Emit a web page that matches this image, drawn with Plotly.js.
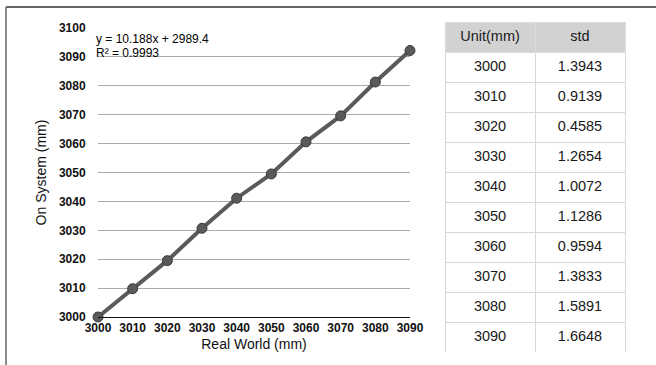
<!DOCTYPE html>
<html>
<head>
<meta charset="utf-8">
<script src="https://cdn.plot.ly/plotly-3.0.1.min.js"></script>
<style>html,body{margin:0;padding:0;background:#fff;}#chart{width:656px;height:365px;}</style>
</head>
<body>
<div id="chart"></div>
<script>
// Data
const realWorld = [3000, 3010, 3020, 3030, 3040, 3050, 3060, 3070, 3080, 3090];
const onSystem  = [3000, 3009.8, 3019.5, 3030.7, 3041.1, 3049.5, 3060.6, 3069.6, 3081.3, 3092.2];
const tableUnits = ["3000", "3010", "3020", "3030", "3040", "3050", "3060", "3070", "3080", "3090"];
const tableStd   = ["1.3943", "0.9139", "0.4585", "1.2654", "1.0072", "1.1286", "0.9594", "1.3833", "1.5891", "1.6648"];
const tableHeader = ["Unit(mm)", "std"];
const xTicks = [3000, 3010, 3020, 3030, 3040, 3050, 3060, 3070, 3080, 3090];
const yTicks = [3000, 3010, 3020, 3030, 3040, 3050, 3060, 3070, 3080, 3090, 3100];
const trendText = "y = 10.188x + 2989.4";
const r2Text = "R² = 0.9993";

const W = 656, H = 365;
const px = v => v / W;
const py = v => 1 - v / H;
const font = "Liberation Sans, Arial, Helvetica, sans-serif";

const traces = [
  {
    type: 'scatter', mode: 'lines+markers',
    x: realWorld, y: onSystem,
    line: {color: '#5a5a5a', width: 4},
    marker: {size: 10, color: '#5a5a5a', line: {color: '#3a3a3a', width: 1}},
    cliponaxis: false, showlegend: false, hoverinfo: 'skip'
  },
  {
    type: 'table',
    domain: {x: [px(445), px(625)], y: [py(352), py(22)]},
    columnwidth: [90, 90],
    header: {
      values: tableHeader,
      fill: {color: '#d2d2d2'},
      line: {color: '#dcdcdc', width: 1},
      align: 'center', height: 30,
      font: {family: font, size: 14.5, color: '#1a1a1a'}
    },
    cells: {
      values: [tableUnits, tableStd],
      fill: {color: '#ffffff'},
      line: {color: '#d8d8d8', width: 1},
      align: 'center', height: 30,
      font: {family: font, size: 14.5, color: '#1a1a1a'}
    }
  }
];

const layout = {
  width: W, height: H,
  margin: {l: 0, r: 0, t: 0, b: 0},
  paper_bgcolor: '#fff', plot_bgcolor: '#fff',
  showlegend: false,
  font: {family: font, color: '#000'},
  xaxis: {
    domain: [px(98), px(410)],
    range: [3000, 3090],
    tickvals: xTicks,
    showgrid: false, zeroline: false,
    showline: true, linecolor: '#111', linewidth: 1,
    ticks: '', tickfont: {size: 12, color: '#111', weight: 'bold'},
    title: {text: 'Real World (mm)', font: {size: 14, color: '#111'}, standoff: 4},
    fixedrange: true
  },
  yaxis: {
    domain: [py(317), py(28)],
    range: [3000, 3100],
    tickvals: yTicks,
    showgrid: true, gridcolor: '#ababab', gridwidth: 1,
    zeroline: false, showline: false,
    ticks: 'outside', ticklen: 9, tickcolor: 'rgba(0,0,0,0)',
    tickfont: {size: 12, color: '#111', weight: 'bold'},
    title: {text: 'On System (mm)', font: {size: 14, color: '#111'}, standoff: 8},
    fixedrange: true
  },
  annotations: [
    {xref: 'paper', yref: 'paper', x: px(94), y: py(39), xanchor: 'left', yanchor: 'middle',
     text: trendText, showarrow: false, font: {size: 12, color: '#000'}},
    {xref: 'paper', yref: 'paper', x: px(94), y: py(53), xanchor: 'left', yanchor: 'middle',
     text: r2Text, showarrow: false, font: {size: 12, color: '#000'}}
  ],
  shapes: [
    {type: 'line', xref: 'paper', yref: 'paper', x0: px(6), x1: 1, y0: py(7), y1: py(7), line: {color: '#666', width: 2}},
    {type: 'line', xref: 'paper', yref: 'paper', x0: px(6), x1: px(6), y0: py(7), y1: 0, line: {color: '#666', width: 1.5}}
  ]
};

Plotly.newPlot('chart', traces, layout, {displayModeBar: false, staticPlot: true});
</script>
</body>
</html>
